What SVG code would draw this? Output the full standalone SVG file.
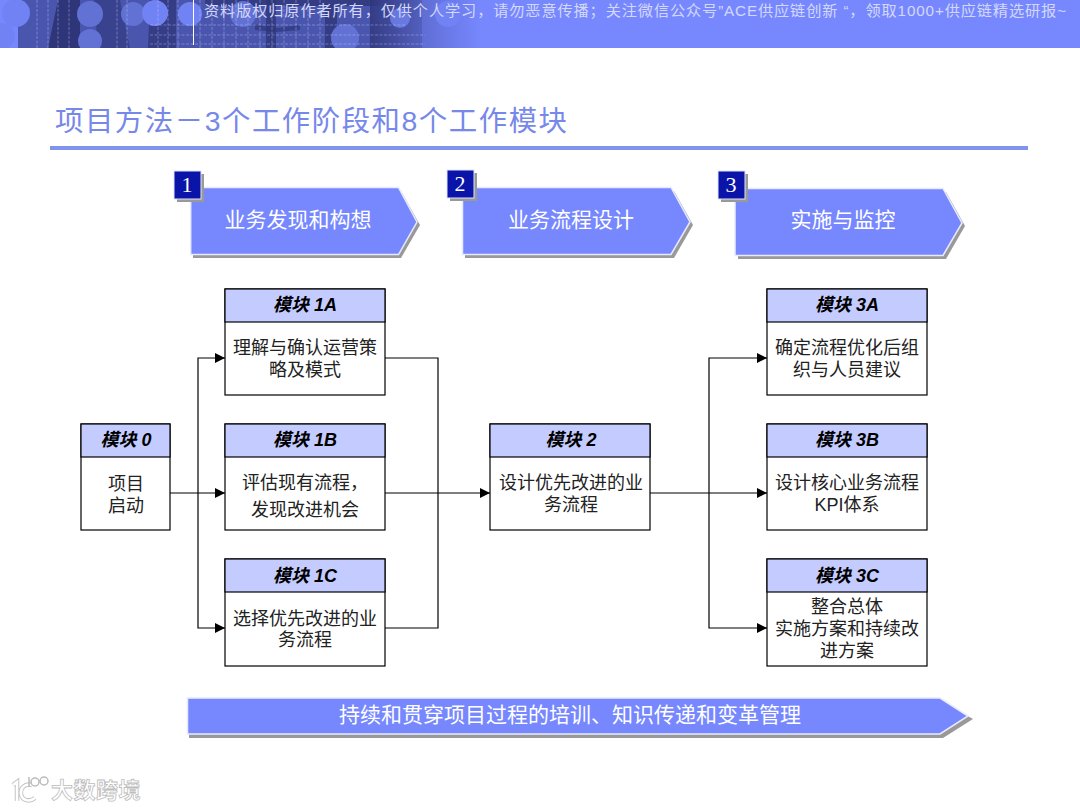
<svg xmlns="http://www.w3.org/2000/svg" width="1080" height="810" viewBox="0 0 1080 810">
<style>
text{font-family:"Liberation Sans","Noto Sans CJK SC",sans-serif;text-anchor:middle}
.box{fill:#fff;stroke:#000;stroke-width:1.2}
.hd{fill:#c4ccff;stroke:#000;stroke-width:1.2}
.ht{font-size:18px;font-weight:bold;font-style:italic;fill:#000}
.bt{font-size:18px;fill:#222;transform:translateY(1px)}
.shadow{fill:#999}
.arrow{fill:#7788ff;stroke:#e8ebff;stroke-width:1.5}
.at{font-size:21px;fill:#fff}
.num{fill:#0a14a8;stroke:#dfe3ff;stroke-width:1}
.nt{font-family:"Liberation Serif","Noto Sans CJK SC",serif;font-size:22px;fill:#fff}
.wire{fill:none;stroke:#000;stroke-width:1.2}
.dark{fill:#2e3679}
.mid{fill:#4a56ad}
.lt{fill:#7182f4}
.tex{fill:#6272d4}
.grid{stroke:#c9d0ff;stroke-width:.7;opacity:.55;stroke-dasharray:3 1.500;fill:none}
</style>
<defs>
<marker id="ah" markerUnits="userSpaceOnUse" markerWidth="11" markerHeight="11" refX="10" refY="5" orient="auto"><path d="M0 0L10 5L0 10Z" fill="#000"/></marker>
<linearGradient id="fade" x1="0" x2="1" y1="0" y2="0">
<stop offset="0" stop-color="#7788ff" stop-opacity="0"/><stop offset="1" stop-color="#7788ff"/></linearGradient>
<clipPath id="bc"><rect width="1080" height="48"/></clipPath>
</defs>

<g id="banner" clip-path="url(#bc)">
<rect width="1080" height="48" fill="#7788ff"/>
<rect x="18" width="462" height="48" class="mid"/>
<path class="dark" d="M48 48L58 0H78L72 48ZM62 48V0H80V48Z"/>
<path class="dark" d="M94 0H120L130 48H98Z" opacity=".6"/>
<path class="dark" d="M150 0H176V48H148Z" opacity=".75"/>
<path class="dark" d="M205 0H420V6H205Z" opacity=".8"/>
<path class="dark" d="M266 0H276V48H266ZM325 4H337V48H325ZM370 0H422V48H370Z" opacity=".8"/>
<path class="dark" d="M255 24L276 28L300 25V30L276 32L255 30Z" opacity=".7"/>
<circle class="lt" cx="16" cy="13" r="14"/><circle class="lt" cx="2" cy="36" r="13"/>
<circle class="tex" cx="90" cy="14" r="13"/><circle class="tex" cx="90" cy="41" r="12"/>
<circle class="tex" cx="133" cy="14" r="12"/><circle class="lt" cx="155" cy="13" r="13"/>
<circle class="lt" cx="190" cy="14" r="12"/><circle class="tex" cx="243" cy="14" r="13"/>
<circle class="tex" cx="345" cy="38" r="14"/><circle class="tex" cx="400" cy="18" r="10"/>
<rect x="370" width="111" height="48" fill="url(#fade)"/>
<circle class="lt" cx="448" cy="14" r="13"/>
<path class="grid" d="M37 0V48M48 0V48M58 0V48M69 0V48M117 0V48M127 0V48M158 0V48M168 0V48M178 0V48M200 0V48M212 0V48M224 0V48M236 0V48M248 0V48M260 0V48M272 0V48M284 0V48M296 0V48M308 0V48M320 0V48M150 25H405M150 35H425M150 44H425"/>
<path d="M193.500 0V45" stroke="#fff" stroke-width="1"/>
<text x="635" y="16" style="font-size:15.200px;fill:#d3d8fb" textLength="862">资料版权归原作者所有，仅供个人学习，请勿恶意传播；关注微信公众号”ACE供应链创新 “，领取1000+供应链精选研报~</text>
</g>

<g id="title">
<text x="55" y="131" style="text-anchor:start;font-size:28.400px;fill:#7688ea" textLength="512">项目方法－3个工作阶段和8个工作模块</text>
<rect x="50" y="146" width="978" height="4" fill="#8094ee"/>
</g>

<g id="phase-1">
<path class="shadow" d="M193 191H401L420 225L401 258H193Z"/>
<path class="arrow" d="M190.700 187.500H398.500L417 222L398.500 254.500H190.700Z"/>
<rect class="shadow" x="177" y="174" width="27" height="28"/>
<rect class="num" x="174" y="171" width="27" height="28"/>
<text class="nt" x="187" y="192">1</text>
<text class="at" x="298" y="227">业务发现和构想</text>
</g>
<g id="phase-2">
<path class="shadow" d="M465 191H674L693 225L674 258H465Z"/>
<path class="arrow" d="M462.500 187.500H671L690 222L671 254.500H462.500Z"/>
<rect class="shadow" x="450" y="173" width="27" height="28"/>
<rect class="num" x="447" y="170" width="27" height="28"/>
<text class="nt" x="460" y="191">2</text>
<text class="at" x="571" y="227">业务流程设计</text>
</g>
<g id="phase-3">
<path class="shadow" d="M738 192H946L965 226L946 259H738Z"/>
<path class="arrow" d="M735 188.500H943L962 223L943 255.500H735Z"/>
<rect class="shadow" x="721" y="174" width="27" height="28"/>
<rect class="num" x="718" y="171" width="27" height="28"/>
<text class="nt" x="731" y="192">3</text>
<text class="at" x="843" y="227">实施与监控</text>
</g>

<g id="connectors">
<path class="wire" marker-end="url(#ah)" d="M170 493H225"/>
<path class="wire" marker-end="url(#ah)" d="M198 493V358H225"/>
<path class="wire" marker-end="url(#ah)" d="M198 493V628H225"/>
<path class="wire" d="M385 358H438V628H385"/>
<path class="wire" marker-end="url(#ah)" d="M385 493H490"/>
<path class="wire" marker-end="url(#ah)" d="M650 493H767"/>
<path class="wire" marker-end="url(#ah)" d="M709 493V358H767"/>
<path class="wire" marker-end="url(#ah)" d="M709 493V628H767"/>
</g>

<g id="module-0">
<rect class="box" x="81" y="424" width="89" height="106"/><rect class="hd" x="81" y="424" width="89" height="33"/>
<text class="ht" x="126" y="446">模块 0</text>
<text class="bt" x="126" y="489">项目</text><text class="bt" x="126" y="511">启动</text>
</g>
<g id="module-1a">
<rect class="box" x="225" y="289" width="160" height="106"/><rect class="hd" x="225" y="289" width="160" height="33"/>
<text class="ht" x="305" y="311">模块 1A</text>
<text class="bt" x="305" y="353">理解与确认运营策</text><text class="bt" x="305" y="375">略及模式</text>
</g>
<g id="module-1b">
<rect class="box" x="225" y="424" width="160" height="106"/><rect class="hd" x="225" y="424" width="160" height="33"/>
<text class="ht" x="305" y="446">模块 1B</text>
<text class="bt" x="305" y="488">评估现有流程，</text><text class="bt" x="305" y="515">发现改进机会</text>
</g>
<g id="module-1c">
<rect class="box" x="225" y="559" width="160" height="107"/><rect class="hd" x="225" y="559" width="160" height="33"/>
<text class="ht" x="305" y="582">模块 1C</text>
<text class="bt" x="305" y="624">选择优先改进的业</text><text class="bt" x="305" y="645">务流程</text>
</g>
<g id="module-2">
<rect class="box" x="490" y="424" width="160" height="106"/><rect class="hd" x="490" y="424" width="160" height="33"/>
<text class="ht" x="571" y="446">模块 2</text>
<text class="bt" x="571" y="488">设计优先改进的业</text><text class="bt" x="571" y="510">务流程</text>
</g>
<g id="module-3a">
<rect class="box" x="767" y="289" width="160" height="106"/><rect class="hd" x="767" y="289" width="160" height="33"/>
<text class="ht" x="847" y="311">模块 3A</text>
<text class="bt" x="847" y="353">确定流程优化后组</text><text class="bt" x="847" y="375">织与人员建议</text>
</g>
<g id="module-3b">
<rect class="box" x="767" y="424" width="160" height="106"/><rect class="hd" x="767" y="424" width="160" height="33"/>
<text class="ht" x="847" y="446">模块 3B</text>
<text class="bt" x="847" y="488">设计核心业务流程</text><text class="bt" x="847" y="510">KPI体系</text>
</g>
<g id="module-3c">
<rect class="box" x="767" y="559" width="160" height="107"/><rect class="hd" x="767" y="559" width="160" height="33"/>
<text class="ht" x="847" y="582">模块 3C</text>
<text class="bt" x="847" y="612">整合总体</text><text class="bt" x="847" y="634">实施方案和持续改</text><text class="bt" x="847" y="656">进方案</text>
</g>

<g id="foundation">
<path class="shadow" d="M189 702H943L973 719L943 738H189Z"/>
<path class="arrow" d="M187.500 698H940L968 716L940 734H187.500Z"/>
<text class="at" x="570" y="722">持续和贯穿项目过程的培训、知识传递和变革管理</text>
</g>

<g id="watermark">
<path d="M13 785L17 782V801M32 785C24 783 20 789 21 794C22 801 30 802 35 798" fill="none" stroke="#c4c4c4" stroke-width="4.500"/>
<path d="M13 785L17 782V801M32 785C24 783 20 789 21 794C22 801 30 802 35 798" fill="none" stroke="#fff" stroke-width="2.500"/>
<path d="M29 777V787" stroke="#bbb" stroke-width="1.500"/>
<circle cx="35" cy="782" r="4" fill="#fff" stroke="#bbb" stroke-width="1.500"/><circle cx="44" cy="781" r="4" fill="#fff" stroke="#bbb" stroke-width="1.500"/>
<text x="96" y="798" style="font-size:22px;font-weight:bold;fill:#fff;stroke:#bdbdbd;stroke-width:.8;letter-spacing:.5px">大数跨境</text>
</g>
</svg>
